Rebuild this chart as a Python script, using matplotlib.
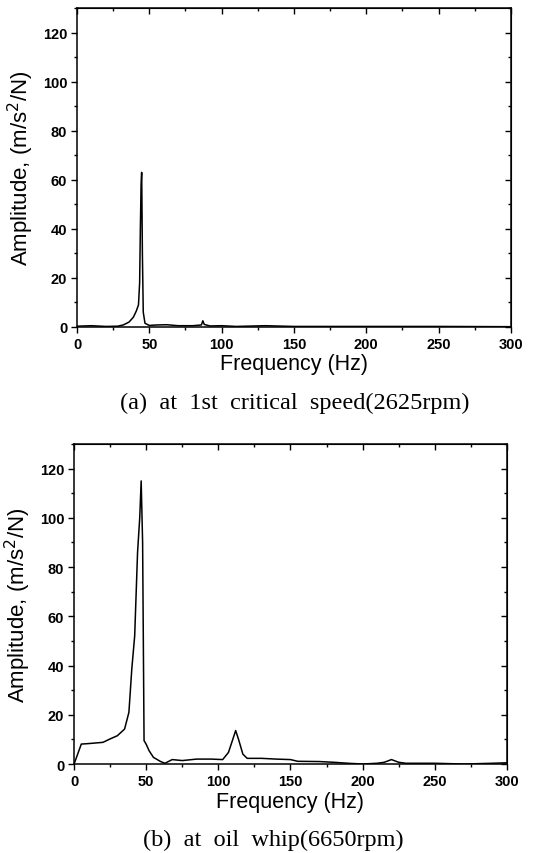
import matplotlib
matplotlib.use('Agg')
from matplotlib import pyplot as plt
from matplotlib.ticker import MultipleLocator

# (a) 1st critical speed, 2625 rpm
freq_a = [0, 10, 20, 28, 32, 36, 39, 41, 42.5, 43.3, 43.8, 44.3, 44.7, 45.2,
          45.8, 47, 50, 55, 62, 70, 80, 86, 87, 88, 92, 100, 110, 130, 150,
          200, 250, 300]
amp_a = [0.3, 0.5, 0.2, 0.3, 0.8, 2.0, 4.0, 6.5, 9.0, 18.0, 40.0, 58.0, 63.0,
         30.0, 6.0, 1.5, 0.6, 0.8, 0.9, 0.5, 0.5, 0.8, 2.5, 1.0, 0.4, 0.5, 0.2,
         0.5, 0.2, 0.2, 0.2, 0.1]

# (b) oil whip, 6650 rpm
freq_b = [0, 5, 10, 20, 25, 30, 35, 38, 40, 42, 44, 45.5, 46.5, 47.5, 48.5,
          50, 52, 55, 60, 63, 68, 75, 85, 95, 103, 107, 110, 112, 114, 117,
          120, 130, 140, 150, 155, 170, 180, 190, 200, 210, 215, 220, 225, 230,
          250, 270, 290, 300]
amp_b = [0.0, 8.1, 8.3, 8.8, 10.2, 11.5, 14.2, 21.0, 38.6, 52.0, 86.0, 100.0,
         115.0, 90.0, 9.5, 8.0, 5.4, 2.7, 1.0, 0.3, 1.8, 1.4, 2.0, 2.0, 1.8,
         4.7, 10.0, 13.6, 10.0, 4.0, 2.3, 2.3, 2.0, 1.8, 1.1, 1.0, 0.7, 0.3,
         0.0, 0.3, 0.7, 1.8, 0.7, 0.3, 0.3, 0.0, 0.3, 0.5]

x_ticks = [0, 50, 100, 150, 200, 250, 300]
y_ticks = [0, 20, 40, 60, 80, 100, 120]

fig = plt.figure(figsize=(5.33, 8.54), dpi=100)
ax1 = fig.add_axes([0.1445, 0.616, 0.814, 0.3735])
ax2 = fig.add_axes([0.139, 0.1042, 0.812, 0.3747])

panels = [
    (ax1, freq_a, amp_a, "(a)  at  1st  critical  speed(2625rpm)", 0.553, 0.528),
    (ax2, freq_b, amp_b, "(b)  at  oil  whip(6650rpm)", 0.512, 0.016),
]

for ax, f, a, caption, cap_x, cap_y in panels:
    ax.plot(f, a, color='black', lw=1.1)
    ax.set_xlim(0, 300)
    ax.set_ylim(0, 130)
    ax.set_xticks(x_ticks)
    ax.set_yticks(y_ticks)
    ax.xaxis.set_minor_locator(MultipleLocator(25))
    ax.yaxis.set_minor_locator(MultipleLocator(10))
    ax.tick_params(which='both', direction='out', width=1, pad=3)
    ax.tick_params(which='major', length=4)
    ax.tick_params(which='minor', length=2.5)
    for lbl in ax.get_xticklabels() + ax.get_yticklabels():
        lbl.set_fontfamily('Liberation Sans')
        lbl.set_fontweight('bold')
        lbl.set_fontsize(10.5)
    for sp in ax.spines.values():
        sp.set_linewidth(1.1)

    # inward ticks on top and right edges
    top = ax.secondary_xaxis('top')
    top.set_xticks(x_ticks)
    top.xaxis.set_minor_locator(MultipleLocator(25))
    top.tick_params(which='both', direction='in', labeltop=False, width=1)
    top.tick_params(which='major', length=4)
    top.tick_params(which='minor', length=2.5)
    right = ax.secondary_yaxis('right')
    right.set_yticks(y_ticks)
    right.yaxis.set_minor_locator(MultipleLocator(10))
    right.tick_params(which='both', direction='in', labelright=False, width=1)
    right.tick_params(which='major', length=4)
    right.tick_params(which='minor', length=2.5)

    ax.set_xlabel("Frequency (Hz)", fontsize=15.5, family='Liberation Sans',
                  labelpad=2)
    ax.set_ylabel("Amplitude, (m/s$^2$/N)", fontsize=16,
                  family='Liberation Sans', labelpad=5)
    fig.text(cap_x, cap_y, caption, ha='center', va='center', fontsize=17.5,
             family='Liberation Serif')

fig.savefig('out.png', dpi=100)
